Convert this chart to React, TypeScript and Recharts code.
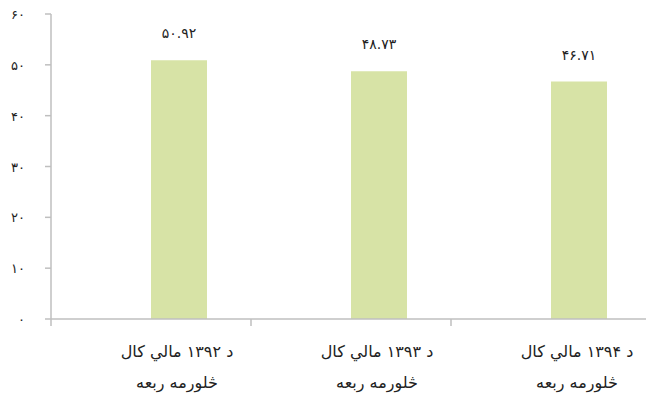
import React from 'react';
import { BarChart, Bar, XAxis, YAxis, LabelList } from 'recharts';

const categories = ['د ۱۳۹۲ مالي کال', 'د ۱۳۹۳ مالي کال', 'د ۱۳۹۴ مالي کال'];
const subLabel = 'څلورمه ربعه';
const values = [50.92, 48.73, 46.71];
const valueLabels = ['۵۰.۹۲', '۴۸.۷۳', '۴۶.۷۱'];
const yTicks = [0, 10, 20, 30, 40, 50, 60];
const yTickLabels = ['۰', '۱۰', '۲۰', '۳۰', '۴۰', '۵۰', '۶۰'];

const data = categories.map((c, i) => ({ name: c, value: values[i], label: valueLabels[i] }));

const FONT = '"DejaVu Sans", sans-serif';
const AXIS = '#bfbfbf';

const XTick = (props: any) => {
  const { x, y, payload } = props;
  return (
    <g>
      <line x1={x - 100} x2={x - 100} y1={y - 8} y2={y - 1} stroke={AXIS} strokeWidth={1.5} />
      <text x={x + 26} y={y + 30} textAnchor="middle" fontFamily={FONT} fontSize={16} fill="#222">
        {payload.value}
      </text>
      <text x={x + 26} y={y + 61} textAnchor="middle" fontFamily={FONT} fontSize={16} fill="#222">
        {subLabel}
      </text>
    </g>
  );
};

const YTick = (props: any) => {
  const { x, y, payload } = props;
  const idx = yTicks.indexOf(payload.value);
  return (
    <text x={x} y={y} dy={5} textAnchor="end" fontFamily={FONT} fontSize={13} fill="#222">
      {yTickLabels[idx]}
    </text>
  );
};

export default function App() {
  return (
    <div style={{ position: 'absolute', left: 0, top: 0, width: 646, height: 400, overflow: 'hidden', background: '#fff' }}>
      <BarChart width={660} height={400} data={data} margin={{ top: 14, right: 9, bottom: 0, left: 0 }} barGap={0}>
        <XAxis
          dataKey="name"
          tickLine={false}
          axisLine={{ stroke: AXIS, strokeWidth: 1.5 }}
          tick={<XTick />}
          interval={0}
          height={81}
        />
        <YAxis
          domain={[0, 60]}
          ticks={yTicks}
          width={51}
          tickSize={6}
          tickMargin={20}
          tickLine={{ stroke: AXIS, strokeWidth: 1.5 }}
          axisLine={{ stroke: AXIS, strokeWidth: 1.5 }}
          tick={<YTick />}
        />
        <Bar dataKey="spacer" fill="none" barSize={56} isAnimationActive={false} />
        <Bar dataKey="value" fill="#d7e3a6" barSize={56} isAnimationActive={false}>
          <LabelList dataKey="label" position="top" offset={22} fontFamily={FONT} fontSize={14} fill="#222" />
        </Bar>
      </BarChart>
    </div>
  );
}
